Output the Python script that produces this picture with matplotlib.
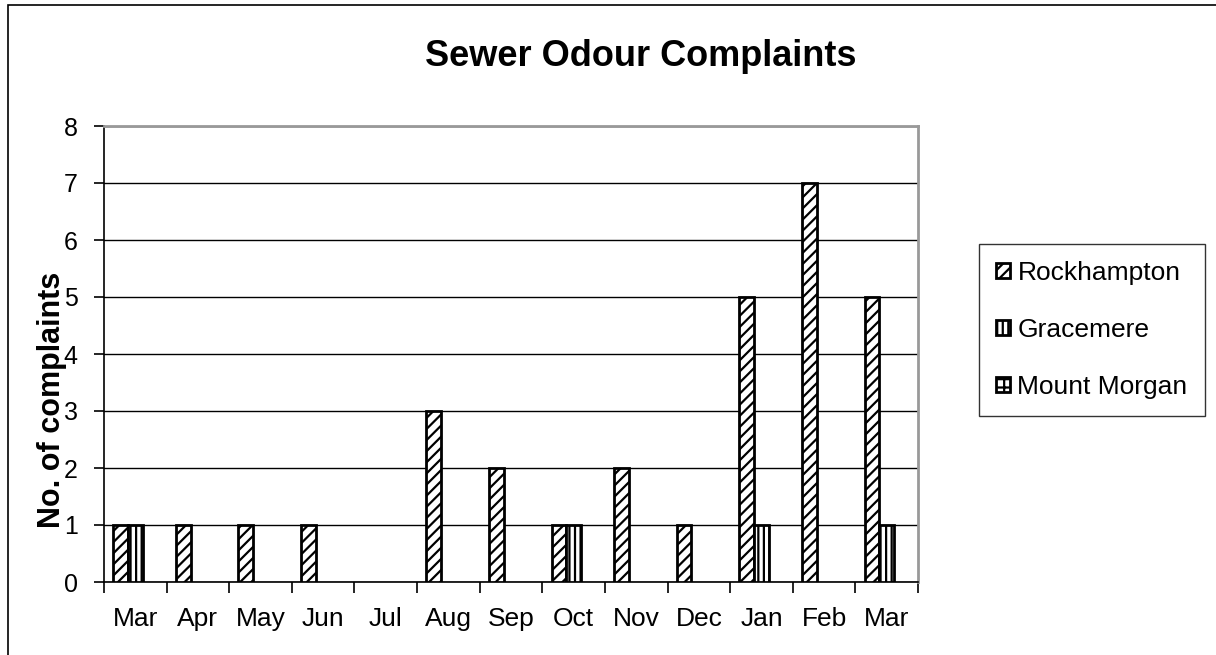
import numpy as np
import matplotlib.pyplot as plt

months = ['Mar', 'Apr', 'May', 'Jun', 'Jul', 'Aug', 'Sep', 'Oct', 'Nov', 'Dec', 'Jan', 'Feb', 'Mar']
rockhampton = [1, 1, 1, 1, 0, 3, 2, 1, 2, 1, 5, 7, 5]
gracemere = [1, 0, 0, 0, 0, 0, 0, 1, 0, 0, 1, 0, 1]
mount_morgan = [0, 0, 0, 0, 0, 0, 0, 0, 0, 0, 0, 0, 0]

plt.rcParams['font.family'] = ['Liberation Sans', 'DejaVu Sans']
plt.rcParams['hatch.linewidth'] = 1.6

fig = plt.figure(figsize=(12.16, 6.55), dpi=100)
ax = fig.add_axes([104 / 1216, 1 - 582 / 655, 814 / 1216, 456 / 655])

x = np.arange(len(months))
w = 0.235


def nz(vals):
    # zero-height bars are not drawn at all in the original
    v = np.array(vals, dtype=float)
    v[v == 0] = np.nan
    return v


ax.bar(x - w, nz(rockhampton), w, color='white', edgecolor='black', linewidth=2, hatch='///', zorder=3, label='Rockhampton')
ax.bar(x, nz(gracemere), w, color='white', edgecolor='black', linewidth=2, hatch='|||', zorder=3, label='Gracemere')
ax.bar(x + w, nz(mount_morgan), w, color='white', edgecolor='black', linewidth=2, hatch='++', zorder=3, label='Mount Morgan')

ax.set_xlim(-0.5, len(months) - 0.5)
ax.set_ylim(0, 8)
ax.set_yticks(range(0, 9))
ax.yaxis.grid(True, color='black', linewidth=1)
ax.set_axisbelow(True)
ax.set_xticks(x)
ax.set_xticklabels(months)
ax.set_xticks(np.arange(-0.5, len(months), 1), minor=True)
ax.tick_params(axis='x', which='major', length=0, pad=18, labelsize=19)
ax.tick_params(axis='x', which='minor', length=8, width=1.2, direction='out')
ax.tick_params(axis='y', length=7, width=1.2, labelsize=18, pad=12)
for s in ['top', 'right']:
    ax.spines[s].set_color('#999999')
    ax.spines[s].set_linewidth(2)
for s in ['left', 'bottom']:
    ax.spines[s].set_color('black')
    ax.spines[s].set_linewidth(1.2)

fig.text(52 / 1216, 1 - 400 / 655, 'No. of complaints', fontsize=22, fontweight='bold',
         rotation=90, ha='center', va='center')
fig.text(641 / 1216, 1 - 56 / 655, 'Sewer Odour Complaints', fontsize=26, fontweight='bold',
         ha='center', va='center')

leg = fig.legend(loc='center', bbox_to_anchor=(1092 / 1216, 1 - 330 / 655), fontsize=19, frameon=True,
                 fancybox=False, edgecolor='black', handlelength=0.5, handleheight=0.5, handletextpad=0.3,
                 labelspacing=1.25, borderpad=0.65, borderaxespad=0)
leg.get_frame().set_linewidth(1)

fig.patches.append(plt.Rectangle((8 / 1216, -0.1), 2, 1.1 - 5 / 655, transform=fig.transFigure, fill=False,
                                 edgecolor='black', linewidth=1.2))

fig.savefig('out.png', dpi=100)
